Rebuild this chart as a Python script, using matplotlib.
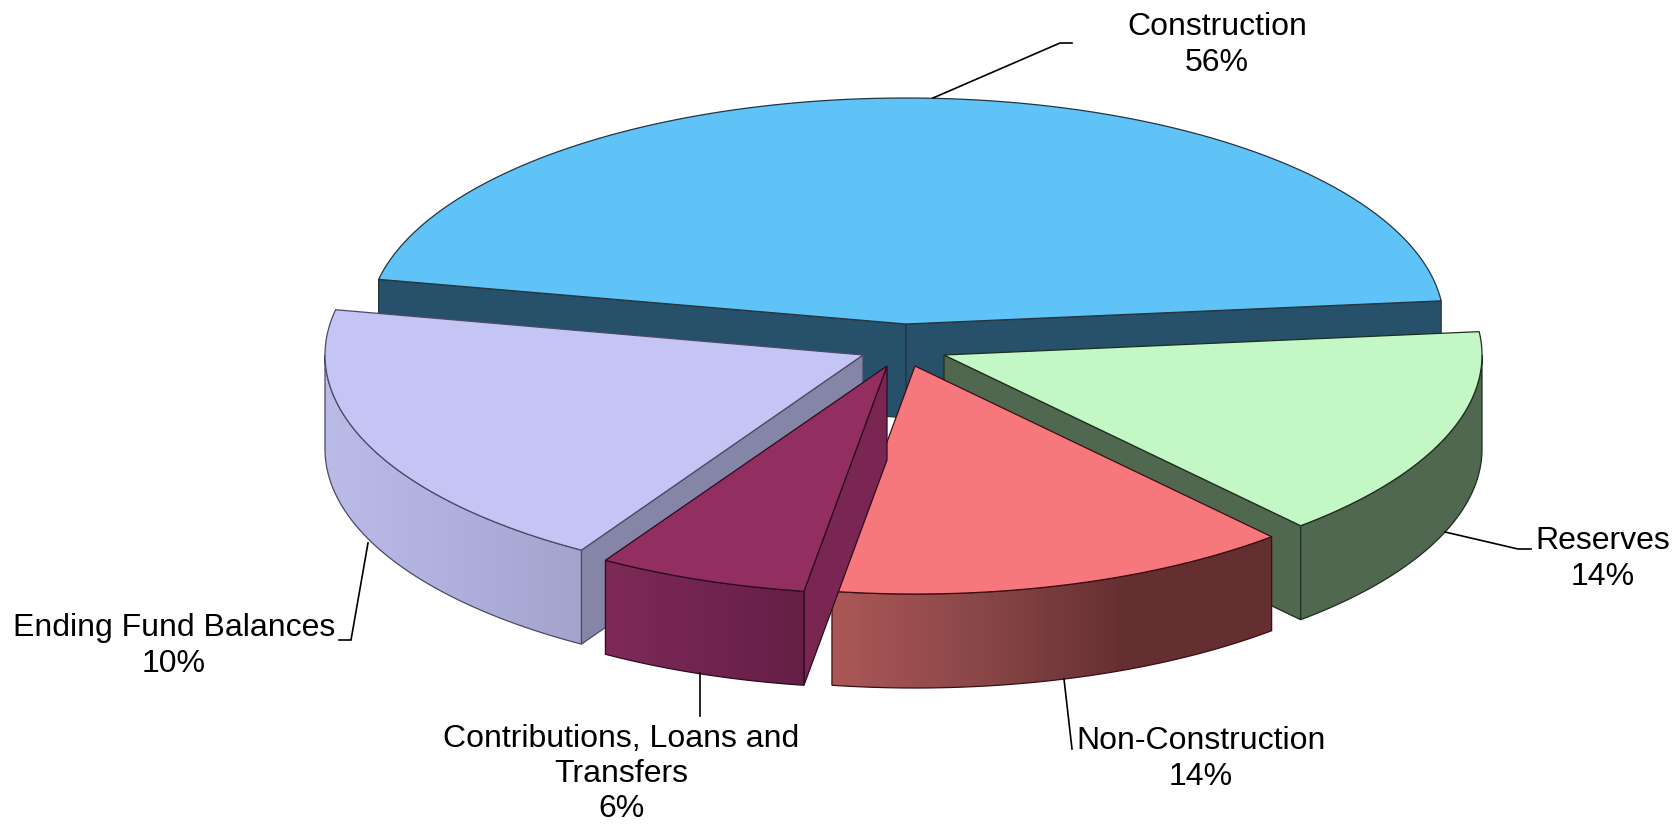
import numpy as np
import matplotlib
matplotlib.use('Agg')
import matplotlib.pyplot as plt
from matplotlib.colors import LinearSegmentedColormap
from matplotlib.patches import Polygon

plt.rcParams['font.family'] = ['Liberation Sans', 'DejaVu Sans']

# DATA
names = ['Construction', 'Reserves', 'Non-Construction',
         'Contributions, Loans and\nTransfers', 'Ending Fund Balances']
percent = [56, 14, 14, 6, 10]
# the slices in the picture are not drawn to their printed percent, so
# the sweep is read off the picture separately
drawn_share = [45.2, 15.1, 14.0, 6.3, 19.4]

# STYLE
top_colors = ['#5FC3F8', '#C3F7C5', '#F7787C', '#932F60', '#C5C5F5']
face_colors = ['#27506A', '#50684F', '#632D30', '#7A2652', '#8585A8']
wall_stops = [['#27506A', '#27506A'],
              ['#50684F', '#50684F'],
              ['#AC5757', '#8A4748', '#652F31', '#652F31'],
              ['#7E2A56', '#722450', '#651F45'],
              ['#BBBBE8', '#B0B0DF', '#A3A3CC']]
edge_colors = ['#25353F', '#1E2E1E', '#3A0E12', '#2E0A20', '#4A4A66']

# LAYOUT (pixels)
width, height = 1680, 824
rx = 538
ry = [226, 228, 228, 228, 229]
depth = 94
start_angle = 168.6
apex = [(906, 324), (944, 355), (915, 366), (887, 366), (863, 355)]
draw_order = [0, 1, 4, 2, 3]
label_pos = [(1217, 45), (1603, 559), (1201, 759), (621, 774), (174, 646)]
leaders = [[(933, 98), (1060, 43), (1072, 43)],
           [(1445, 532), (1518, 549), (1531, 549)],
           [(1064, 679), (1072, 749)],
           [(700, 673), (700, 716)],
           [(368, 543), (351, 640), (339, 640)]]


def arc(i, a0, a1, n=120):
    cx, cy = apex[i]
    t = np.radians(np.linspace(a0, a1, n))
    return np.column_stack([cx + rx * np.cos(t), cy - ry[i] * np.sin(t)])


def draw_slice(ax, i, a0, a1, z):
    cx, cy = apex[i]
    edge = edge_colors[i]
    down = np.array([0, depth])

    # cut faces, only those turned towards the viewer
    for ang, visible in ((a0, np.cos(np.radians(a0)) < 0),
                         (a1, np.cos(np.radians(a1)) > 0)):
        if visible:
            p = arc(i, ang, ang, 1)[0]
            c = np.array([cx, cy])
            ax.add_patch(Polygon([c, p, p + down, c + down], closed=True,
                                 facecolor=face_colors[i], edgecolor=edge,
                                 linewidth=0.9, zorder=z))

    # outer wall, gradient clipped to its outline
    hi, lo = min(a0, 0), max(a1, -180)
    if hi > lo:
        rim = arc(i, hi, lo)
        outline = np.vstack([rim, rim[::-1] + down])
        wall = Polygon(outline, closed=True, facecolor='none',
                       edgecolor=edge, linewidth=0.9, zorder=z + 0.2)
        ax.add_patch(wall)
        cmap = LinearSegmentedColormap.from_list('wall', wall_stops[i])
        grad = np.linspace(0, 1, 256).reshape(1, -1)
        im = ax.imshow(grad, cmap=cmap, aspect='auto', zorder=z + 0.1,
                       extent=(rim[:, 0].min(), rim[:, 0].max(),
                               outline[:, 1].max(), outline[:, 1].min()))
        im.set_clip_path(wall)

    # top
    top = np.vstack([[cx, cy], arc(i, a0, a1)])
    ax.add_patch(Polygon(top, closed=True, facecolor=top_colors[i],
                         edgecolor=edge, linewidth=0.9, zorder=z + 0.3))


fig = plt.figure(figsize=(width / 100, height / 100), dpi=100)
ax = fig.add_axes([0, 0, 1, 1])

shares = np.array(drawn_share) / sum(drawn_share)
edges = start_angle - 360 * np.concatenate([[0], np.cumsum(shares)])

for z, i in enumerate(draw_order):
    draw_slice(ax, i, edges[i], edges[i + 1], z + 1)

for line in leaders:
    xs, ys = zip(*line)
    ax.plot(xs, ys, color='black', linewidth=1.2, zorder=10,
            solid_joinstyle='miter')

for name, pct, (x, y) in zip(names, percent, label_pos):
    ax.text(x, y, f'{name}\n{pct}%', ha='center', va='center', fontsize=23,
            color='black', linespacing=1.23, zorder=11)

ax.set_xlim(0, width)
ax.set_ylim(height, 0)
ax.axis('off')

fig.savefig('out.png', dpi=100, facecolor='white')
